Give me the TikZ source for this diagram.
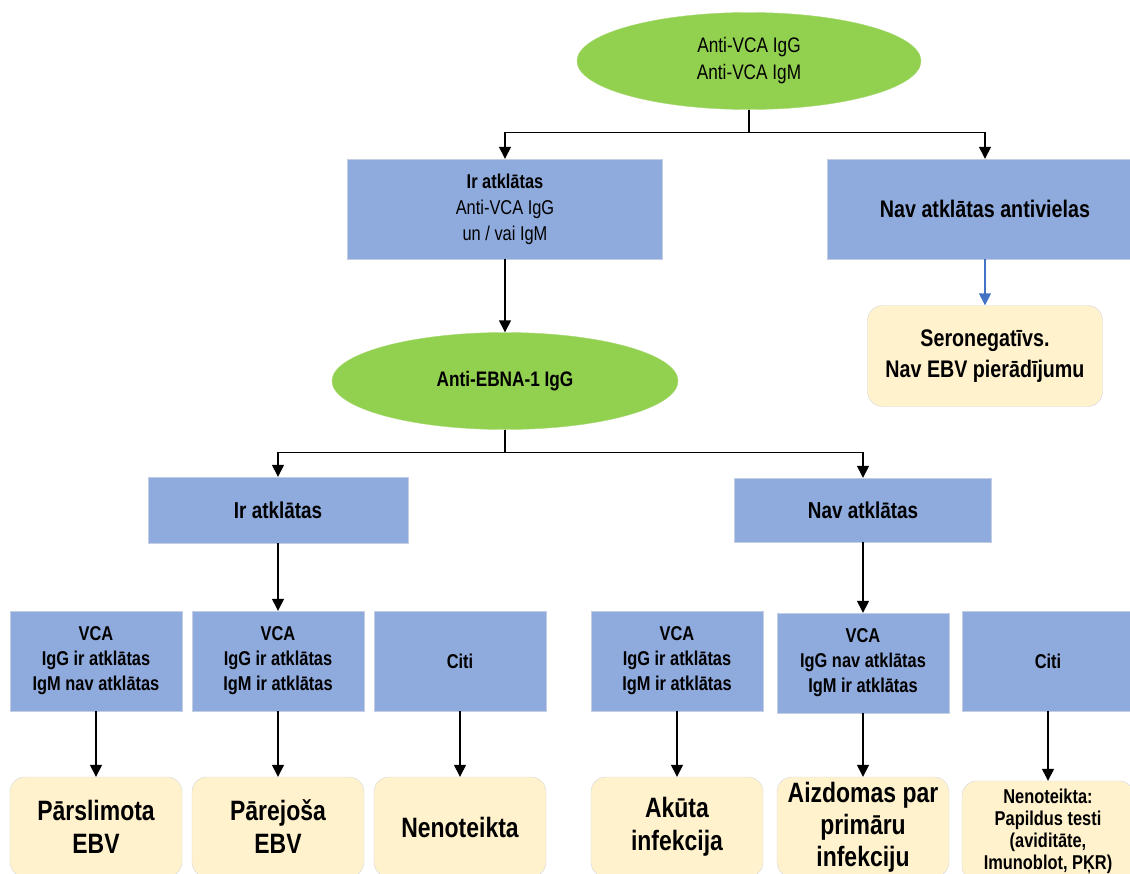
\documentclass[tikz,border=0pt]{standalone}
\usepackage{fontspec}
\setmainfont{Liberation Sans}[FakeStretch=0.82]
\usepackage{xcolor}
\usepackage{tikz}
\usetikzlibrary{arrows.meta,positioning,shapes.geometric}

\definecolor{testgreen}{HTML}{92D050}
\definecolor{boxblue}{HTML}{8FAADC}
\definecolor{boxline}{HTML}{C3CEE4}
\definecolor{outfill}{HTML}{FFF2CC}
\definecolor{outline}{HTML}{D6D6D6}
\definecolor{arrowblue}{HTML}{4472C4}

\newcommand{\fs}[2]{\fontsize{#1}{#2}\selectfont}

\begin{document}
\begin{tikzpicture}[x=1pt, y=-1pt,
  test/.style={ellipse, draw=testgreen!80!white, fill=testgreen, inner sep=0pt,
    minimum width=344pt, minimum height=97pt, align=center},
  result/.style={draw=boxline, fill=boxblue, inner sep=0pt,
    minimum width=172pt, minimum height=100pt, align=center},
  outcome/.style={draw=outline, fill=outfill, rounded corners=15pt, inner sep=0pt,
    minimum width=172pt, minimum height=100pt, align=center},
  arrow/.style={-{Triangle[length=12pt,width=12pt]}, line width=1.4pt},
]
\useasboundingbox (0,0) rectangle (1130,873);

% top level
\node[test, font=\fs{21}{27}] (vca) at (749,61) {Anti-VCA IgG\\Anti-VCA IgM};
\node[result, minimum width=315pt, font=\fs{20}{26}] (igpos) at (505,209)
  {\textbf{Ir atklātas}\\Anti-VCA IgG\\un / vai IgM};
\node[result, minimum width=316pt, font=\fs{24}{28}\bfseries] (noab) at (985,209)
  {Nav atklātas antivielas};
\node[outcome, minimum width=235pt, minimum height=101pt, font=\fs{24}{31}\bfseries] (seroneg) at (985,356)
  {Seronegatīvs.\\Nav EBV pierādījumu};
\node[test, minimum width=346pt, font=\fs{21}{26}\bfseries] (ebna) at (505,381) {Anti-EBNA-1 IgG};

\draw[arrow] (vca.south) -- ++(0,23) -| (igpos.north);
\draw[arrow] (vca.south) -- ++(0,23) -| (noab.north);
\draw[arrow, arrowblue] (noab) -- (seroneg);
\draw[arrow] (igpos) -- (ebna);

% EBNA branch
\node[result, minimum width=260pt, minimum height=66pt, font=\fs{23}{26}\bfseries] (ebnapos) at (278,510) {Ir atklātas};
\node[result, minimum width=257pt, minimum height=64pt, font=\fs{23}{26}\bfseries] (ebnaneg) at (863,510) {Nav atklātas};

\draw[arrow] (ebna.south) -- ++(0,23) -| (ebnapos.north);
\draw[arrow] (ebna.south) -- ++(0,23) -| (ebnaneg.north);

% VCA combinations
\node[result, font=\fs{20}{25}\bfseries] (past) at (96,661) {VCA\\IgG ir atklātas\\IgM nav atklātas};
\node[result, font=\fs{20}{25}\bfseries] (trans) at (278,661) {VCA\\IgG ir atklātas\\IgM ir atklātas};
\node[result, font=\fs{20}{25}\bfseries] (othpos) at (460,661) {Citi};
\node[result, font=\fs{20}{25}\bfseries] (acute) at (677,661) {VCA\\IgG ir atklātas\\IgM ir atklātas};
\node[result, font=\fs{20}{25}\bfseries] (prim) at (863,663) {VCA\\IgG nav atklātas\\IgM ir atklātas};
\node[result, font=\fs{20}{25}\bfseries] (othneg) at (1048,661) {Citi};

\draw[arrow] (ebnapos) -- (trans);
\draw[arrow] (ebnaneg) -- (prim);

% outcomes
\node[outcome, font=\fs{28}{33}\bfseries] (pastout) at (96,827) {Pārslimota\\EBV};
\node[outcome, font=\fs{28}{33}\bfseries] (transout) at (278,827) {Pārejoša\\EBV};
\node[outcome, font=\fs{28}{33}\bfseries] (othposout) at (460,827) {Nenoteikta};
\node[outcome, font=\fs{28}{33}\bfseries] (acuteout) at (677,827) {Akūta\\infekcija};
\node[outcome, font=\fs{28}{32}\bfseries] (primout) at (863,827) {Aizdomas par\\primāru\\infekciju};
\node[outcome, font=\fs{20}{22}\bfseries] (othnegout) at (1048,831)
  {Nenoteikta:\\Papildus testi\\(aviditāte,\\Imunoblot, PĶR)};

\draw[arrow] (past) -- (pastout);
\draw[arrow] (trans) -- (transout);
\draw[arrow] (othpos) -- (othposout);
\draw[arrow] (acute) -- (acuteout);
\draw[arrow] (prim) -- (primout);
\draw[arrow] (othneg) -- (othnegout);

\end{tikzpicture}
\end{document}
